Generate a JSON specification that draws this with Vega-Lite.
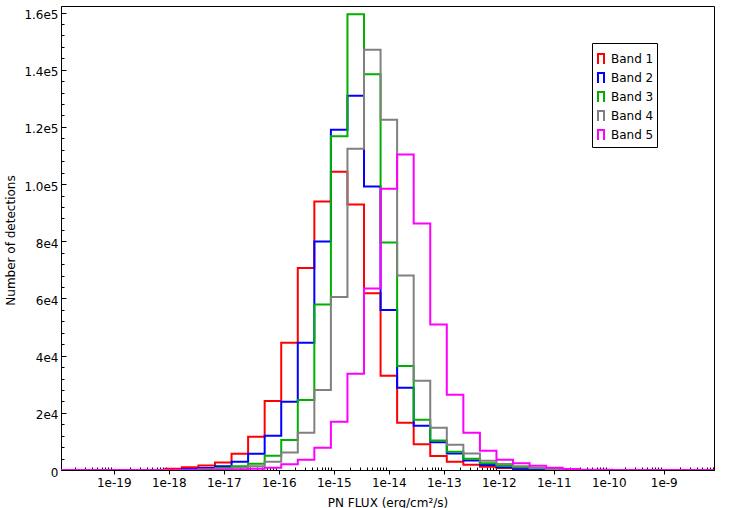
{
  "$schema": "https://vega.github.io/schema/vega-lite/v6.json",
  "width": 653,
  "height": 464,
  "autosize": {"type": "none"},
  "padding": {"left": 61, "top": 6, "right": 18, "bottom": 38},
  "background": "white",
  "config": {
    "font": "DejaVu Sans",
    "view": {"stroke": "black", "strokeWidth": 1},
    "axis": {
      "grid": false,
      "domainColor": "black",
      "tickColor": "black",
      "labelColor": "black",
      "titleColor": "black",
      "labelFont": "DejaVu Sans",
      "titleFont": "DejaVu Sans",
      "labelFontSize": 12,
      "titleFontSize": 12,
      "titleFontWeight": "normal"
    }
  },
  "data": {
    "values": [
      {"x": 6.7763e-21, "Band 1": 0, "Band 2": 0, "Band 3": 0, "Band 4": 0, "Band 5": 0},
      {"x": 1.3553e-20, "Band 1": 0, "Band 2": 0, "Band 3": 0, "Band 4": 0, "Band 5": 0},
      {"x": 2.7105e-20, "Band 1": 0, "Band 2": 0, "Band 3": 0, "Band 4": 0, "Band 5": 0},
      {"x": 5.4210e-20, "Band 1": 0, "Band 2": 0, "Band 3": 0, "Band 4": 0, "Band 5": 0},
      {"x": 1.0842e-19, "Band 1": 0, "Band 2": 0, "Band 3": 0, "Band 4": 0, "Band 5": 0},
      {"x": 2.1684e-19, "Band 1": 0, "Band 2": 0, "Band 3": 0, "Band 4": 0, "Band 5": 0},
      {"x": 4.3368e-19, "Band 1": 0, "Band 2": 0, "Band 3": 0, "Band 4": 0, "Band 5": 0},
      {"x": 8.6736e-19, "Band 1": 450, "Band 2": 0, "Band 3": 0, "Band 4": 0, "Band 5": 0},
      {"x": 1.7347e-18, "Band 1": 950, "Band 2": 350, "Band 3": 0, "Band 4": 0, "Band 5": 0},
      {"x": 3.4694e-18, "Band 1": 1600, "Band 2": 700, "Band 3": 250, "Band 4": 150, "Band 5": 0},
      {"x": 6.9389e-18, "Band 1": 2650, "Band 2": 1300, "Band 3": 700, "Band 4": 350, "Band 5": 100},
      {"x": 1.3878e-17, "Band 1": 5700, "Band 2": 2850, "Band 3": 1300, "Band 4": 800, "Band 5": 200},
      {"x": 2.7756e-17, "Band 1": 11650, "Band 2": 5650, "Band 3": 2200, "Band 4": 1300, "Band 5": 400},
      {"x": 5.5511e-17, "Band 1": 24100, "Band 2": 12000, "Band 3": 4950, "Band 4": 2850, "Band 5": 800},
      {"x": 1.1102e-16, "Band 1": 44500, "Band 2": 23850, "Band 3": 10500, "Band 4": 6100, "Band 5": 2000},
      {"x": 2.2204e-16, "Band 1": 70700, "Band 2": 44550, "Band 3": 24500, "Band 4": 13070, "Band 5": 3600},
      {"x": 4.4409e-16, "Band 1": 93900, "Band 2": 79900, "Band 3": 57900, "Band 4": 28000, "Band 5": 7800},
      {"x": 8.8818e-16, "Band 1": 104300, "Band 2": 119000, "Band 3": 116700, "Band 4": 60550, "Band 5": 16900},
      {"x": 1.7764e-15, "Band 1": 92850, "Band 2": 130900, "Band 3": 159400, "Band 4": 112350, "Band 5": 33700},
      {"x": 3.5527e-15, "Band 1": 61850, "Band 2": 99150, "Band 3": 138400, "Band 4": 147000, "Band 5": 63450},
      {"x": 7.1054e-15, "Band 1": 33000, "Band 2": 56000, "Band 3": 79600, "Band 4": 122500, "Band 5": 98350},
      {"x": 1.4211e-14, "Band 1": 16560, "Band 2": 28800, "Band 3": 36400, "Band 4": 68000, "Band 5": 110350},
      {"x": 2.8422e-14, "Band 1": 8980, "Band 2": 15500, "Band 3": 17600, "Band 4": 31260, "Band 5": 86200},
      {"x": 5.6843e-14, "Band 1": 4900, "Band 2": 9700, "Band 3": 10300, "Band 4": 14750, "Band 5": 50900},
      {"x": 1.1369e-13, "Band 1": 2850, "Band 2": 5750, "Band 3": 6400, "Band 4": 8860, "Band 5": 26300},
      {"x": 2.2737e-13, "Band 1": 1800, "Band 2": 3350, "Band 3": 3900, "Band 4": 5770, "Band 5": 13070},
      {"x": 4.5475e-13, "Band 1": 1170, "Band 2": 1750, "Band 3": 2330, "Band 4": 3250, "Band 5": 6760},
      {"x": 9.0949e-13, "Band 1": 700, "Band 2": 930, "Band 3": 1500, "Band 4": 2100, "Band 5": 3600},
      {"x": 1.8190e-12, "Band 1": 350, "Band 2": 470, "Band 3": 930, "Band 4": 1300, "Band 5": 2400},
      {"x": 3.6380e-12, "Band 1": 200, "Band 2": 200, "Band 3": 580, "Band 4": 700, "Band 5": 1500},
      {"x": 7.2760e-12, "Band 1": 80, "Band 2": 80, "Band 3": 230, "Band 4": 350, "Band 5": 820},
      {"x": 1.4552e-11, "Band 1": 0, "Band 2": 0, "Band 3": 100, "Band 4": 120, "Band 5": 350},
      {"x": 2.9104e-11, "Band 1": 0, "Band 2": 0, "Band 3": 0, "Band 4": 0, "Band 5": 120},
      {"x": 5.8208e-11, "Band 1": 0, "Band 2": 0, "Band 3": 0, "Band 4": 0, "Band 5": 50},
      {"x": 1.1642e-10, "Band 1": 0, "Band 2": 0, "Band 3": 0, "Band 4": 0, "Band 5": 0},
      {"x": 2.3283e-10, "Band 1": 0, "Band 2": 0, "Band 3": 0, "Band 4": 0, "Band 5": 0},
      {"x": 4.6566e-10, "Band 1": 0, "Band 2": 0, "Band 3": 0, "Band 4": 0, "Band 5": 0},
      {"x": 9.3132e-10, "Band 1": 0, "Band 2": 0, "Band 3": 0, "Band 4": 0, "Band 5": 0},
      {"x": 1.8626e-9, "Band 1": 0, "Band 2": 0, "Band 3": 0, "Band 4": 0, "Band 5": 0},
      {"x": 3.7253e-9, "Band 1": 0, "Band 2": 0, "Band 3": 0, "Band 4": 0, "Band 5": 0},
      {"x": 7.4506e-9, "Band 1": 0, "Band 2": 0, "Band 3": 0, "Band 4": 0, "Band 5": 0},
      {"x": 1.4901e-8, "Band 1": 0, "Band 2": 0, "Band 3": 0, "Band 4": 0, "Band 5": 0}
    ]
  },
  "transform": [
    {"fold": ["Band 1", "Band 2", "Band 3", "Band 4", "Band 5"], "as": ["band", "count"]}
  ],
  "mark": {"type": "line", "interpolate": "step-after", "strokeWidth": 2, "clip": true},
  "encoding": {
    "x": {
      "field": "x",
      "type": "quantitative",
      "scale": {"type": "log", "domain": [1.1e-20, 8.2e-9], "nice": false},
      "axis": {
        "title": "PN FLUX (erg/cm²/s)",
        "values": [2e-20,3e-20,4e-20,5e-20,6e-20,7e-20,8e-20,9e-20,
          1e-19,2e-19,3e-19,4e-19,5e-19,6e-19,7e-19,8e-19,9e-19,
          1e-18,2e-18,3e-18,4e-18,5e-18,6e-18,7e-18,8e-18,9e-18,
          1e-17,2e-17,3e-17,4e-17,5e-17,6e-17,7e-17,8e-17,9e-17,
          1e-16,2e-16,3e-16,4e-16,5e-16,6e-16,7e-16,8e-16,9e-16,
          1e-15,2e-15,3e-15,4e-15,5e-15,6e-15,7e-15,8e-15,9e-15,
          1e-14,2e-14,3e-14,4e-14,5e-14,6e-14,7e-14,8e-14,9e-14,
          1e-13,2e-13,3e-13,4e-13,5e-13,6e-13,7e-13,8e-13,9e-13,
          1e-12,2e-12,3e-12,4e-12,5e-12,6e-12,7e-12,8e-12,9e-12,
          1e-11,2e-11,3e-11,4e-11,5e-11,6e-11,7e-11,8e-11,9e-11,
          1e-10,2e-10,3e-10,4e-10,5e-10,6e-10,7e-10,8e-10,9e-10,
          1e-9,2e-9,3e-9,4e-9,5e-9,6e-9,7e-9,8e-9],
        "labelExpr": "abs(log(datum.value)/LN10 - round(log(datum.value)/LN10)) < 0.001 ? '1e' + round(log(datum.value)/LN10) : ''",
        "tickSize": {"condition": {"test": "abs(log(datum.value)/LN10 - round(log(datum.value)/LN10)) < 0.001", "value": 4}, "value": -3},
        "labelPadding": 3,
        "labelFlush": false,
        "labelOverlap": false,
        "titleX": 326.5,
        "titleY": 32,
        "titleBaseline": "middle",
        "titleAlign": "center"
      }
    },
    "y": {
      "field": "count",
      "type": "quantitative",
      "scale": {"domain": [0, 162300], "nice": false},
      "axis": {
        "title": "Number of detections",
        "values": [0,4000,8000,12000,16000,20000,24000,28000,32000,36000,40000,44000,48000,52000,56000,60000,64000,68000,72000,76000,80000,84000,88000,92000,96000,100000,104000,108000,112000,116000,120000,124000,128000,132000,136000,140000,144000,148000,152000,156000,160000],
        "labelExpr": "datum.value === 0 ? '0' : (datum.value % 20000 !== 0 ? '' : (datum.value < 100000 ? (datum.value/10000) + 'e4' : format(datum.value/100000, '.1f') + 'e5'))",
        "tickSize": {"condition": {"test": "datum.value % 20000 === 0", "value": -5}, "value": -3},
        "labelPadding": 8,
        "labelOffset": 2,
        "labelFlush": false,
        "labelOverlap": false,
        "titleX": -51,
        "titleY": 234,
        "titleAngle": -90,
        "titleBaseline": "middle",
        "titleAlign": "center"
      }
    },
    "color": {
      "field": "band",
      "type": "nominal",
      "scale": {
        "domain": ["Band 1", "Band 2", "Band 3", "Band 4", "Band 5"],
        "range": ["#ff0000", "#0000ff", "#00b000", "#808080", "#ff00ff"]
      },
      "legend": {
        "title": " ",
        "titleFontSize": 5,
        "titlePadding": 2,
        "orient": "none",
        "legendX": 531,
        "legendY": 37,
        "strokeColor": "black",
        "fillColor": "white",
        "padding": 3,
        "cornerRadius": 0,
        "symbolType": "M-0.6,1V-1H0.6V1",
        "symbolSize": 100,
        "symbolStrokeWidth": 2,
        "symbolFillColor": "transparent",
        "labelFontSize": 12,
        "labelFont": "DejaVu Sans",
        "labelColor": "black",
        "labelOffset": 4,
        "rowPadding": 1
      }
    }
  }
}
